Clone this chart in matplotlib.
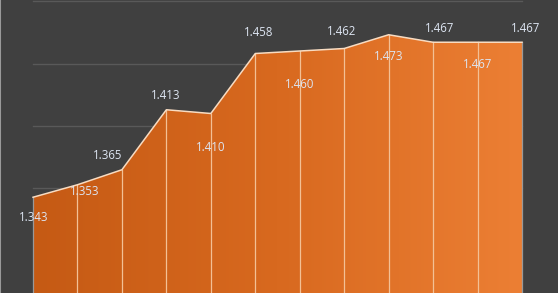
import numpy as np
import matplotlib.pyplot as plt
from matplotlib.colors import LinearSegmentedColormap

# values
values = [1.343, 1.353, 1.365, 1.413, 1.410, 1.458, 1.460, 1.462, 1.473, 1.467, 1.467, 1.467]
labels = ["1.343", "1.353", "1.365", "1.413", "1.410", "1.458",
          "1.460", "1.462", "1.473", "1.467", "1.467", "1.467"]
grid_levels = [1.35, 1.40, 1.45, 1.50]

# label offsets in pixels (dx, dy)
label_offsets = [(1, -20), (7, -7), (-14, 14), (-1, 14), (0, -34), (3, 21),
                 (0, -34), (-3, 17), (0, -22), (7, 14), (0, -22), (4, 14)]

bg = "#404040"
x = np.arange(len(values))

fig = plt.figure(figsize=(5.58, 2.93), dpi=100, facecolor=bg)
ax = fig.add_axes([0, 0, 1, 1])
ax.set_facecolor(bg)

ax.set_xlim(-33 / 44.45, 11 + 36 / 44.45)
ax.set_ylim(1.5 - 292 / 1250, 1.5 + 1 / 1250)

for g in grid_levels:
    ax.plot([x[0], x[-1]], [g, g], color="#595959", lw=1, zorder=1)

# gradient area
ybot = ax.get_ylim()[0]
poly = ax.fill_between(x, values, ybot, color="none", zorder=2)
cmap = LinearSegmentedColormap.from_list("org", ["#c55a14", "#d8691f", "#ec7f34"])
grad = np.linspace(0, 1, 256).reshape(1, -1)
img = ax.imshow(grad, cmap=cmap, aspect="auto", extent=[x[0], x[-1], ybot, 1.5],
                zorder=2, interpolation="bilinear")
img.set_clip_path(poly.get_paths()[0], transform=ax.transData)

# vertical lines at data points
for i, v in enumerate(values):
    c = "#999999" if i in (0, len(values) - 1) else "#f3c095"
    ax.plot([x[i], x[i]], [ybot, v], color=c, lw=0.9, zorder=3)

ax.plot(x, values, color="#f8dcc2", lw=1.1, zorder=4)

for i, (v, t) in enumerate(zip(values, labels)):
    dx, dy = label_offsets[i]
    ax.annotate(t, (x[i], v), xytext=(dx, dy), textcoords="offset pixels",
                ha="center", va="center", color="#dde5f2", fontsize=8.3,
                family="Open Sans", zorder=5)

ax.axis("off")
ax.axvline(ax.get_xlim()[0], color="#9a9a9a", lw=1.5)
fig.savefig("out.png", dpi=100, facecolor=bg)
